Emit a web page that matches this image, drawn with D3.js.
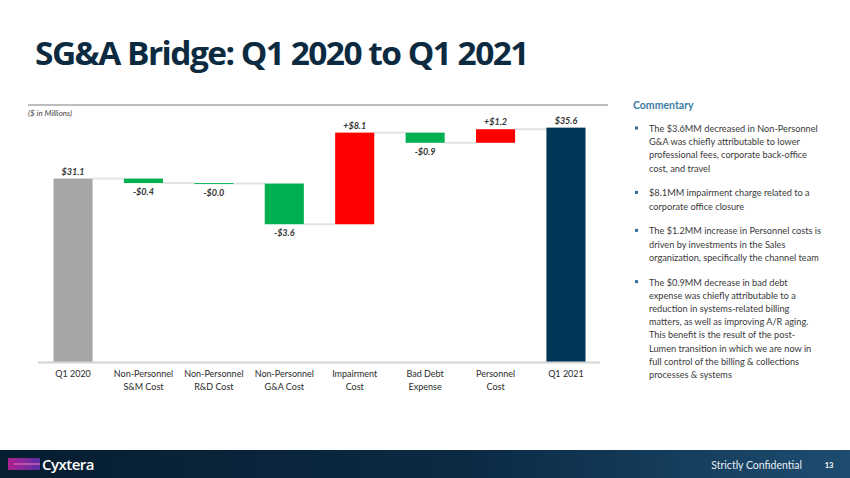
<!DOCTYPE html>
<html>
<head>
<meta charset="utf-8">
<script src="https://cdn.jsdelivr.net/npm/d3@7"></script>
<style>
  body { margin: 0; background: #fff; }
  svg { display: block; }
</style>
</head>
<body>
<svg id="slide" width="850" height="478"></svg>
<script>
// bridge data ($ in millions)
var categories = [
    ["Q1 2020"],
    ["Non-Personnel", "S&M Cost"],
    ["Non-Personnel", "R&D Cost"],
    ["Non-Personnel", "G&A Cost"],
    ["Impairment", "Cost"],
    ["Bad Debt", "Expense"],
    ["Personnel", "Cost"],
    ["Q1 2021"]
];
var values = [31.1, -0.4, -0.04, -3.6, 8.1, -0.9, 1.2, 35.6];
var kinds = ["total", "delta", "delta", "delta", "delta", "delta", "delta", "total"];
var valueLabels = ["$31.1", "-$0.4", "-$0.0", "-$3.6", "+$8.1", "-$0.9", "+$1.2", "$35.6"];

var commentary = [
    ["The $3.6MM  decreased in Non-Personnel", "G&A was chiefly attributable to lower", "professional fees, corporate back-office", "cost, and travel"],
    ["$8.1MM  impairment charge related to a", "corporate office closure"],
    ["The $1.2MM  increase in Personnel costs is", "driven by investments in the Sales", "organization, specifically the channel team"],
    ["The $0.9MM  decrease in bad debt", "expense was chiefly attributable to a", "reduction in systems-related billing", "matters, as well as improving A/R aging.", "This benefit is the result of the post-", "Lumen transition in which we are now in", "full control of the billing & collections", "processes & systems"]
];

var svg = d3.select("#slide");
var font = "Lato, 'Open Sans', sans-serif";

// title
svg.append("text")
    .attr("x", 35)
    .attr("y", 65)
    .attr("textLength", 493)
    .attr("lengthAdjust", "spacingAndGlyphs")
    .style("font-family", "'Open Sans', sans-serif")
    .style("font-weight", 700)
    .style("font-size", "33px")
    .style("letter-spacing", "-1.5px")
    .style("fill", "#0c2a40")
    .text("SG&A Bridge:  Q1 2020 to Q1 2021");

// top rule
svg.append("line")
    .attr("x1", 28).attr("x2", 608)
    .attr("y1", 105).attr("y2", 105)
    .style("stroke", "#bdbdbd")
    .style("stroke-width", 2);

svg.append("text")
    .attr("x", 28)
    .attr("y", 116)
    .style("font-family", font)
    .style("font-style", "italic")
    .style("font-size", "8px")
    .style("fill", "#444")
    .text("($ in Millions)");

// running totals
var bars = [];
var running = 0;
values.forEach(function(v, i) {
    if (kinds[i] === "total") {
        bars.push({i: i, start: 0, end: v, value: v, kind: "total"});
        running = v;
    } else {
        bars.push({i: i, start: running, end: running + v, value: v, kind: "delta"});
        running += v;
    }
});

var x = d3.scaleBand()
    .domain(d3.range(categories.length))
    .range([38, 601])
    .paddingInner(0.445)
    .paddingOuter(0.22);

var y = d3.scaleLinear()
    .domain([14.8, 37.6])
    .range([363, 105]);

function barColor(d) {
    if (d.kind === "total") return d.i === 0 ? "#a6a6a6" : "#003656";
    return d.value < 0 ? "#00b050" : "#ff0000";
}

// connectors
var chart = svg.append("g");
chart.selectAll(".connector")
    .data(bars.slice(0, -1))
    .enter().append("line")
    .attr("class", "connector")
    .attr("x1", function(d) { return x(d.i) + x.bandwidth(); })
    .attr("x2", function(d) { return x(d.i + 1); })
    .attr("y1", function(d) { return y(d.end); })
    .attr("y2", function(d) { return y(d.end); })
    .style("stroke", "#e3e3e3")
    .style("stroke-width", 2);

// bars
chart.selectAll(".bar")
    .data(bars)
    .enter().append("rect")
    .attr("class", "bar")
    .attr("x", function(d) { return x(d.i); })
    .attr("width", x.bandwidth())
    .attr("y", function(d) {
        return d.kind === "total" ? y(d.end) : y(Math.max(d.start, d.end));
    })
    .attr("height", function(d) {
        if (d.kind === "total") return y.range()[0] - y(d.end);
        return Math.max(1, Math.abs(y(d.start) - y(d.end)));
    })
    .style("fill", barColor);

// baseline
svg.append("line")
    .attr("x1", 38).attr("x2", 600)
    .attr("y1", 362.5).attr("y2", 362.5)
    .style("stroke", "#d4d4d4")
    .style("stroke-width", 2);

// value labels
chart.selectAll(".vlabel")
    .data(bars)
    .enter().append("text")
    .attr("class", "vlabel")
    .attr("x", function(d) { return x(d.i) + x.bandwidth() / 2; })
    .attr("y", function(d) {
        if (d.kind === "total" || d.value > 0) return y(Math.max(d.start, d.end)) - 4;
        return y(Math.min(d.start, d.end)) + 12;
    })
    .attr("text-anchor", "middle")
    .style("font-family", font)
    .style("font-style", "italic")
    .style("font-weight", 700)
    .style("font-size", "9px")
    .style("fill", "#333")
    .text(function(d) { return valueLabels[d.i]; });

// category labels
var xAxis = svg.append("g")
    .attr("transform", "translate(0,363)")
    .call(d3.axisBottom(x).tickSize(0).tickFormat(""));
xAxis.select(".domain").remove();

xAxis.selectAll(".tick").each(function(i) {
    var t = d3.select(this).append("text")
        .attr("y", 14)
        .attr("text-anchor", "middle")
        .style("font-family", font)
        .style("font-size", "9px")
        .style("fill", "#2b2b2b");
    categories[i].forEach(function(line, k) {
        t.append("tspan").attr("x", 0).attr("dy", k === 0 ? 0 : 12.5).text(line);
    });
});

// commentary
svg.append("text")
    .attr("x", 633)
    .attr("y", 109)
    .style("font-family", font)
    .style("font-weight", 700)
    .style("font-size", "10.5px")
    .style("fill", "#3b7ca6")
    .text("Commentary");

var lineH = 13.2;
var yy = 132;
commentary.forEach(function(para) {
    svg.append("rect")
        .attr("x", 635).attr("y", yy - 5.5)
        .attr("width", 3).attr("height", 3)
        .style("fill", "#2f6f9f");
    var t = svg.append("text")
        .style("font-family", font)
        .style("font-size", "9.2px")
        .style("fill", "#3a3a3a");
    para.forEach(function(line, k) {
        t.append("tspan").attr("x", 649).attr("y", yy + k * lineH).text(line);
    });
    yy += para.length * lineH + 11.6;
});

// footer
var defs = svg.append("defs");
var fg = defs.append("linearGradient").attr("id", "footerGrad");
fg.append("stop").attr("offset", "0%").attr("stop-color", "#071d30");
fg.append("stop").attr("offset", "55%").attr("stop-color", "#0b2a44");
fg.append("stop").attr("offset", "100%").attr("stop-color", "#1d4c70");
var lg = defs.append("linearGradient").attr("id", "logoGrad");
lg.append("stop").attr("offset", "0%").attr("stop-color", "#b0208f");
lg.append("stop").attr("offset", "100%").attr("stop-color", "#5b2fa6");

svg.append("rect")
    .attr("x", 0).attr("y", 450)
    .attr("width", 850).attr("height", 28)
    .style("fill", "url(#footerGrad)");

svg.append("rect")
    .attr("x", 8).attr("y", 458)
    .attr("width", 32).attr("height", 12)
    .style("fill", "url(#logoGrad)");
svg.append("line")
    .attr("x1", 14).attr("x2", 40)
    .attr("y1", 464).attr("y2", 464)
    .style("stroke", "#d35fb8")
    .style("stroke-width", 1.5);

svg.append("text")
    .attr("x", 42)
    .attr("y", 470)
    .style("font-family", "'Open Sans', sans-serif")
    .style("font-weight", 600)
    .style("font-size", "15px")
    .style("letter-spacing", "-0.5px")
    .style("fill", "#fff")
    .text("Cyxtera");

svg.append("text")
    .attr("x", 802)
    .attr("y", 469)
    .attr("text-anchor", "end")
    .style("font-family", font)
    .style("font-size", "10.5px")
    .style("fill", "#e8eef4")
    .text("Strictly Confidential");

svg.append("text")
    .attr("x", 829)
    .attr("y", 468)
    .attr("text-anchor", "middle")
    .style("font-family", font)
    .style("font-weight", 700)
    .style("font-size", "7.5px")
    .style("fill", "#fff")
    .text("13");
</script>
</body>
</html>
